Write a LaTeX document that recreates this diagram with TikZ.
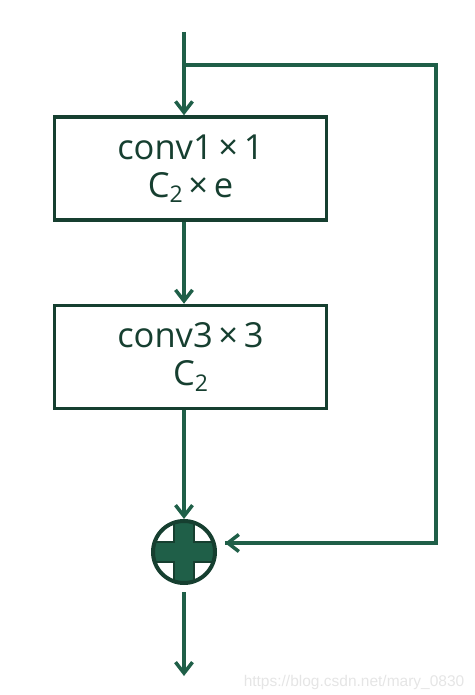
\documentclass[tikz,border=0pt]{standalone}
\usepackage{fontspec}
\setmainfont{Open Sans}
\setsansfont{Liberation Sans}
\usetikzlibrary{arrows.meta,calc}
\definecolor{flow}{HTML}{1F5F48}
\definecolor{frame}{HTML}{163F30}
\newcommand{\lowidx}[1]{\raisebox{-0.3ex}{\fontsize{23}{23}\selectfont #1}}

\begin{document}
\begin{tikzpicture}[x=1pt,y=-1pt,>={Straight Barb[length=11pt,width=17pt]},line width=3.5pt,
  link/.style={draw=flow, ->},
  convbox/.style={draw=frame, fill=white, minimum width=272pt, minimum height=103pt, align=center, inner sep=0pt, font=\fontsize{34.5}{38}\selectfont, text=frame},
  sumnode/.style={circle, draw=frame, line width=4pt, fill=white, minimum size=62pt, inner sep=0pt}]
\useasboundingbox (0,0) rectangle (474,695);
% blocks
\node[convbox] (conva) at (190.5,168.5) {conv1\,×\,1\\C\lowidx{2}\,×\,e};
\node[convbox] (convb) at (190.5,357) {conv3\,×\,3\\C\lowidx{2}};
\node[sumnode, path picture={\fill[flow, draw=frame, line width=1.5pt] (path picture bounding box.center) +(-10,-40) -- +(10,-40) -- +(10,-10) -- +(40,-10) -- +(40,10) -- +(10,10) -- +(10,40) -- +(-10,40) -- +(-10,10) -- +(-40,10) -- +(-40,-10) -- +(-10,-10) -- cycle;}] (sum) at (184,552) {};
\coordinate (in) at (184,32);\coordinate (fork) at (184,65);
\coordinate (skipa) at (436,65);\coordinate (skipb) at (436,543);\coordinate (skipend) at (225,543);
\coordinate (out) at (184,676);
% connectors
\draw[link] (in) -- (in |- conva.north);
\draw[draw=flow] (fork) -- (skipa) -- (skipb) -- (skipend);
\draw[link] (skipb) -- (skipend);
\draw[link] (conva.south -| in) -- (convb.north -| in);
\draw[link] (convb.south -| in) -- (sum.north);
\draw[link] ([yshift=-7pt]sum.south) -- (out);
\node[font=\sffamily\fontsize{15.5}{15.5}\selectfont, text=gray!20, anchor=base west, inner sep=0pt] (mark) at (242,686) {https://blog.csdn.net/mary\_0830};
\end{tikzpicture}
\end{document}
